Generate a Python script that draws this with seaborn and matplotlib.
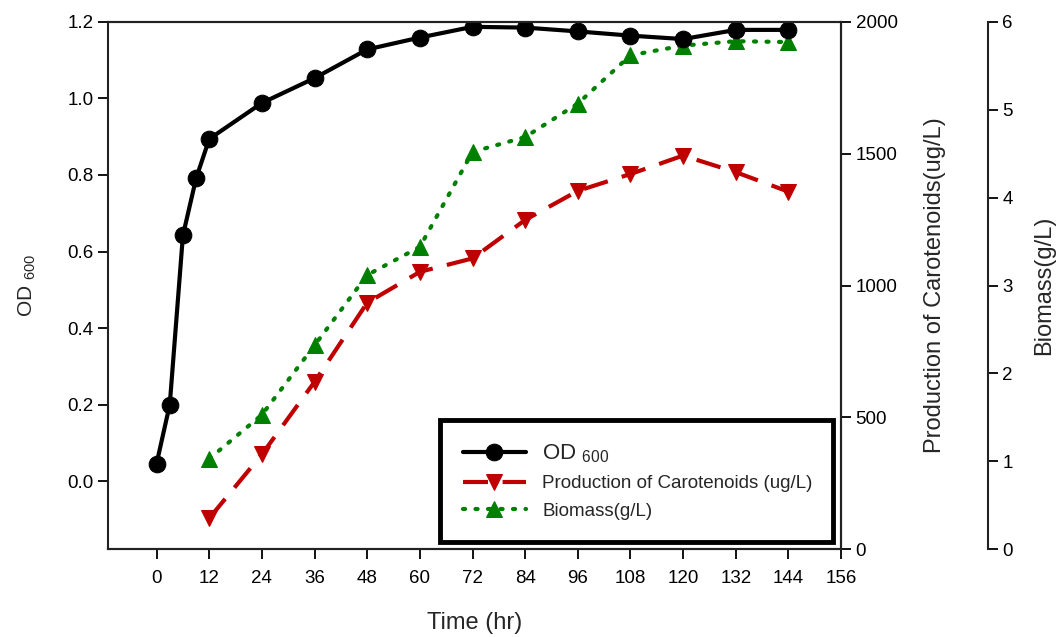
import seaborn as sns
import matplotlib.pyplot as plt

# data
od_time = [0, 3, 6, 9, 12, 24, 36, 48, 60, 72, 84, 96, 108, 120, 132, 144]
od600 = [0.046, 0.20, 0.642, 0.791, 0.894, 0.988, 1.053, 1.128, 1.159,
         1.187, 1.185, 1.175, 1.164, 1.155, 1.179, 1.179]

time = [12, 24, 36, 48, 60, 72, 84, 96, 108, 120, 132, 144]
carotenoids = [118, 360, 635, 935, 1052, 1103, 1249, 1359, 1423, 1493, 1430, 1356]
biomass = [1.03, 1.53, 2.32, 3.12, 3.44, 4.52, 4.69, 5.07, 5.62, 5.73, 5.78, 5.77]

x_ticks = list(range(0, 157, 12))
od_ticks = [0.0, 0.2, 0.4, 0.6, 0.8, 1.0, 1.2]

sns.set_style("ticks")
plt.rcParams['font.family'] = ['Liberation Sans', 'DejaVu Sans']
plt.rcParams['mathtext.fontset'] = 'custom'
plt.rcParams['mathtext.rm'] = 'Liberation Sans'
plt.rcParams['mathtext.it'] = 'Liberation Sans'

fig = plt.figure(figsize=(10.62, 6.37), dpi=100)
ax = fig.add_axes([0.102, 0.1377, 0.690, 0.828])
ax2 = ax.twinx()
ax3 = ax.twinx()
ax3.spines['right'].set_position(('axes', 1.2))

# OD600 on the left axis
sns.lineplot(x=od_time, y=od600, ax=ax, color='black', lw=3, marker='o',
             markersize=12, markeredgecolor='black', legend=False)
# carotenoids on the first right axis
sns.lineplot(x=time, y=carotenoids, ax=ax2, color='#c00000', lw=3, marker='v',
             markersize=12, markeredgecolor='#c00000', legend=False)
ax2.lines[0].set_dashes([6, 3.5])
# biomass on the second right axis
sns.lineplot(x=time, y=biomass, ax=ax3, color='#008000', lw=3, marker='^',
             markersize=12, markeredgecolor='#008000', legend=False)
ax3.lines[0].set_linestyle((0, (0.5, 2.5)))
ax3.lines[0].set_dash_capstyle('round')

ax.set_xlim(-11, 156)
ax.set_xticks(x_ticks)
ax.set_ylim(-0.178, 1.2)
ax.set_yticks(od_ticks)
ax.set_yticklabels([f"{v:.1f}" for v in od_ticks])
ax2.set_ylim(0, 2000)
ax2.set_yticks([0, 500, 1000, 1500, 2000])
ax3.set_ylim(0, 6)
ax3.set_yticks(range(0, 7))

for a in (ax, ax2, ax3):
    a.tick_params(labelsize=13.5, length=7, width=1.3, direction='out', colors='black')
    for s in a.spines.values():
        s.set_linewidth(1.5)
        s.set_color('#222222')
ax.tick_params(axis='x', pad=8)
ax3.spines['top'].set_visible(False)
ax3.spines['bottom'].set_visible(False)
ax3.spines['left'].set_visible(False)
ax2.spines['left'].set_visible(False)

ax.set_xlabel('Time (hr)', fontsize=17, labelpad=18)
ax.set_ylabel(r'OD $_{600}$', fontsize=15, labelpad=21)
ax2.set_ylabel('Production of Carotenoids(ug/L)', fontsize=17, labelpad=19)
ax3.set_ylabel('Biomass(g/L)', fontsize=17, labelpad=15)

handles = ax.lines[:1] + ax2.lines[:1] + ax3.lines[:1]
labels = [r'OD $_{600}$', 'Production of Carotenoids (ug/L)', 'Biomass(g/L)']
leg = ax.legend(handles, labels, loc='lower left', bbox_to_anchor=(0.4527, 0.0138, 0.536, 0.23),
                mode='expand', borderaxespad=0, fancybox=False, framealpha=1, edgecolor='black',
                fontsize=13.5, handlelength=3.4, handletextpad=0.85, borderpad=1.2,
                labelspacing=0.55)
leg.get_frame().set_linewidth(3.5)
leg.get_texts()[0].set_fontsize(16)
ax3.set_zorder(ax2.get_zorder() + 1)
ax.set_zorder(ax3.get_zorder() + 1)
ax.patch.set_visible(False)

fig.savefig('out.png', dpi=100)
